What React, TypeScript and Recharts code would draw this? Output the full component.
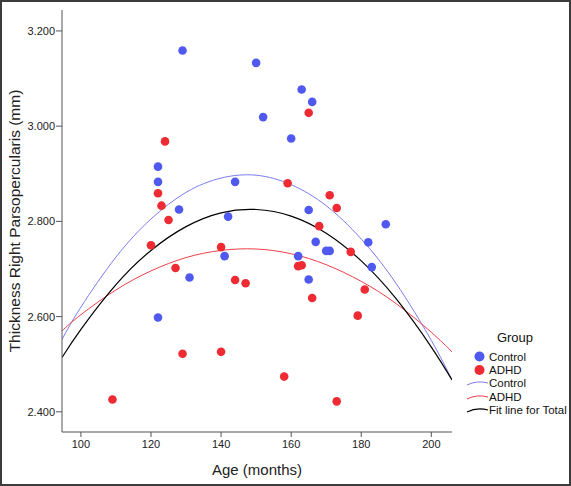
import React from 'react';
import { ComposedChart, Scatter, Line, XAxis, YAxis, Label } from 'recharts';

const controlAge = [129, 150, 163, 166, 152, 160, 122, 122, 144, 128, 165, 142, 187, 167, 182, 170, 171, 141, 162, 183, 131, 165, 122];
const controlThickness = [3.159, 3.133, 3.077, 3.051, 3.019, 2.974, 2.915, 2.883, 2.883, 2.825, 2.824, 2.81, 2.794, 2.757, 2.756, 2.738, 2.738, 2.727, 2.727, 2.704, 2.682, 2.678, 2.598];

const adhdAge = [165, 124, 159, 122, 171, 123, 173, 125, 168, 120, 140, 177, 162, 163, 127, 144, 147, 181, 166, 179, 140, 129, 158, 109, 173];
const adhdThickness = [3.028, 2.968, 2.88, 2.859, 2.855, 2.833, 2.828, 2.803, 2.79, 2.75, 2.746, 2.736, 2.706, 2.708, 2.702, 2.677, 2.67, 2.657, 2.639, 2.602, 2.526, 2.522, 2.474, 2.426, 2.422];

const fitAge = [94.6, 100, 110, 120, 130, 140, 150, 160, 170, 180, 190, 200, 205.9];
const controlFit = [2.552, 2.62, 2.725, 2.805, 2.861, 2.891, 2.897, 2.877, 2.833, 2.763, 2.669, 2.55, 2.467];
const adhdFit = [2.57, 2.604, 2.656, 2.696, 2.724, 2.739, 2.742, 2.732, 2.709, 2.674, 2.627, 2.567, 2.526];
const totalFit = [2.514, 2.573, 2.667, 2.739, 2.789, 2.818, 2.825, 2.811, 2.775, 2.717, 2.637, 2.536, 2.467];

const xTicks = [100, 120, 140, 160, 180, 200];
const yTicks = [2.4, 2.6, 2.8, 3.0, 3.2];

const BLUE_DOT = '#5059ef';
const RED_DOT = '#ee2a33';
const BLUE_LINE = '#7b7cf0';
const RED_LINE = '#ee3e48';
const AXIS = '#555555';
const FONT = '"Liberation Sans", Arial, sans-serif';

const pairs = (xs: number[], ys: number[]) => xs.map((x, i) => ({ age: x, value: ys[i] }));

const controlData = pairs(controlAge, controlThickness);
const adhdData = pairs(adhdAge, adhdThickness);
const controlFitData = pairs(fitAge, controlFit);
const adhdFitData = pairs(fitAge, adhdFit);
const totalFitData = pairs(fitAge, totalFit);

const dot = (color: string) => (props: any) => {
  if (props.cx == null || props.cy == null) return <g />;
  return <circle cx={props.cx} cy={props.cy} r={4.3} fill={color} />;
};

const LegendBox = () => {
  const textStyle: React.CSSProperties = { fontFamily: FONT, fontSize: 11.5, fill: '#111' };
  return (
    <svg width={110} height={100} style={{ position: 'absolute', left: 460, top: 320 }}>
      <text x={55} y={22} textAnchor="middle" style={{ ...textStyle, fontSize: 13 }}>Group</text>
      <circle cx={19.5} cy={36.5} r={5} fill={BLUE_DOT} />
      <text x={29} y={40.5} style={textStyle}>Control</text>
      <circle cx={19.5} cy={50} r={5} fill={RED_DOT} />
      <text x={29} y={54} style={textStyle}>ADHD</text>
      <path d="M7,65 Q17,60 28,63" stroke={BLUE_LINE} fill="none" strokeWidth={1} />
      <text x={29} y={67} style={textStyle}>Control</text>
      <path d="M7,79 Q17,74 28,77" stroke={RED_LINE} fill="none" strokeWidth={1} />
      <text x={29} y={81} style={textStyle}>ADHD</text>
      <path d="M7,92 Q17,87 28,90" stroke="#000" fill="none" strokeWidth={1.2} />
      <text x={29} y={94} style={textStyle}>Fit line for Total</text>
    </svg>
  );
};

export default function App() {
  return (
    <div style={{ position: 'absolute', left: 0, top: 0, width: 571, height: 486, background: '#fff' }}>
      <ComposedChart
        width={571}
        height={486}
        margin={{ top: 10, right: 119, bottom: 10, left: 0 }}
      >
        <XAxis
          type="number"
          dataKey="age"
          domain={[94.6, 205.9]}
          ticks={xTicks}
          allowDataOverflow
          height={44}
          tickSize={5}
          tickMargin={3}
          stroke={AXIS}
          tick={{ fill: '#222', fontSize: 11, fontFamily: FONT }}
        >
          <Label
            value="Age (months)"
            position="insideBottom"
            offset={1}
            style={{ fill: '#222', fontSize: 15, fontFamily: FONT }}
          />
        </XAxis>
        <YAxis
          type="number"
          dataKey="value"
          domain={[2.3576, 3.244]}
          ticks={yTicks}
          allowDataOverflow
          width={62}
          tickSize={6}
          tickMargin={1}
          stroke={AXIS}
          tickFormatter={(v: number) => v.toFixed(3)}
          tick={{ fill: '#222', fontSize: 11, fontFamily: FONT }}
        >
          <Label
            value="Thickness Right Parsopercularis (mm)"
            angle={-90}
            position="insideLeft"
            offset={14}
            style={{ fill: '#222', fontSize: 15.5, fontFamily: FONT, textAnchor: 'middle' }}
          />
        </YAxis>
        <Line data={controlFitData} dataKey="value" type="natural" stroke={BLUE_LINE} strokeWidth={1} dot={false} activeDot={false} isAnimationActive={false} legendType="none" />
        <Line data={adhdFitData} dataKey="value" type="natural" stroke={RED_LINE} strokeWidth={1} dot={false} activeDot={false} isAnimationActive={false} legendType="none" />
        <Line data={totalFitData} dataKey="value" type="natural" stroke="#000" strokeWidth={1.2} dot={false} activeDot={false} isAnimationActive={false} legendType="none" />
        <Scatter data={controlData} dataKey="value" shape={dot(BLUE_DOT)} isAnimationActive={false} />
        <Scatter data={adhdData} dataKey="value" shape={dot(RED_DOT)} isAnimationActive={false} />
      </ComposedChart>
      <LegendBox />
      <div style={{ position: 'absolute', left: 0, top: 0, width: 571, height: 486, boxSizing: 'border-box', border: '2px solid #3c3c3c', pointerEvents: 'none' }} />
    </div>
  );
}
